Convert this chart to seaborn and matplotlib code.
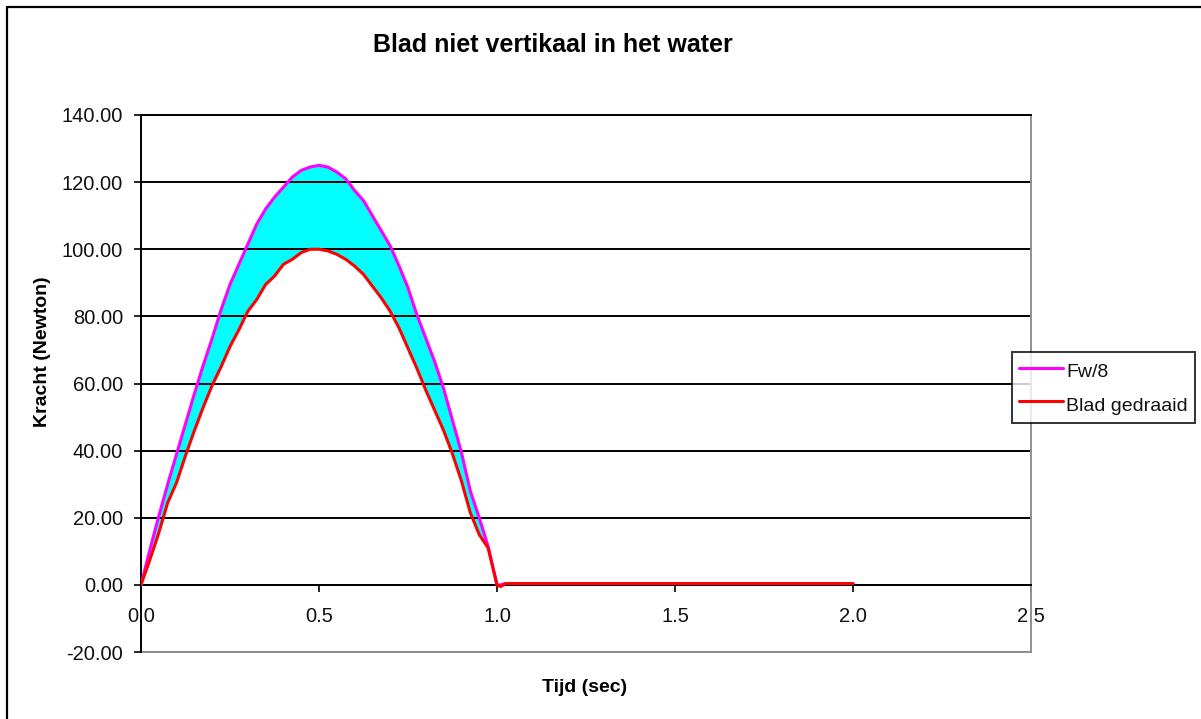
import matplotlib
matplotlib.use("Agg")
import matplotlib.pyplot as plt
from matplotlib.lines import Line2D
import seaborn as sns
import pandas as pd

# ---- data ----
tijd = [0.0, 0.025, 0.05, 0.075, 0.1, 0.125, 0.15, 0.175, 0.2, 0.225,
        0.25, 0.275, 0.3, 0.325, 0.35, 0.375, 0.4, 0.425, 0.45, 0.475,
        0.5, 0.525, 0.55, 0.575, 0.6, 0.625, 0.65, 0.675, 0.7, 0.725,
        0.75, 0.775, 0.8, 0.825, 0.85, 0.875, 0.9, 0.925, 0.95, 0.975,
        1.0, 1.01, 1.025, 1.5, 2.0]
fw8 = [0, 10.5, 20.5, 30, 39, 48, 57, 65.5, 73.5, 82,
       89.5, 95.5, 101.5, 107.5, 112, 115.5, 118.5, 121.5, 123.5, 124.5,
       125, 124.5, 123, 121, 117.5, 114.5, 110, 105.5, 101, 95,
       88.5, 80.5, 73.5, 66.5, 58.5, 49, 39.5, 28, 20, 11.5,
       0, 0, 0.4, 0.4, 0.4]
blad = [0, 7.5, 15.5, 24.5, 30.5, 38.5, 46, 53, 59.5, 65,
        71, 76, 81.5, 85, 89.5, 92, 95.5, 97, 99, 100,
        100, 99.5, 98.5, 97, 95, 92.5, 89, 85.5, 81.5, 76.5,
        70.5, 64.5, 58, 52, 46, 39, 31, 21.5, 15, 11,
        0, -0.5, 0.4, 0.4, 0.4]
series_names = ["Fw/8", "Blad gedraaid"]
series_colors = ["#FF00FF", "#FF0000"]
y_ticks = [-20, 0, 20, 40, 60, 80, 100, 120, 140]
x_ticks = [0.0, 0.5, 1.0, 1.5, 2.0, 2.5]

df = pd.DataFrame({
    "Tijd": tijd + tijd,
    "Kracht": fw8 + blad,
    "Serie": [series_names[0]] * len(tijd) + [series_names[1]] * len(tijd),
})

sns.set_theme(style="white")
plt.rcParams["font.family"] = ["Liberation Sans", "DejaVu Sans"]

W, H = 1201, 719
fig = plt.figure(figsize=(W / 100, H / 100), dpi=100)
fig.patch.set_facecolor("white")

def fx(px):
    return px / W

def fy(py):
    return 1 - py / H

ax = fig.add_axes([fx(141), fy(652), fx(1031) - fx(141), fy(115) - fy(652)])
ax.set_facecolor("white")

# cyan band between the two curves
ax.fill_between(tijd, blad, fw8, color="#00FFFF", linewidth=0, zorder=0.3)

sns.lineplot(data=df, x="Tijd", y="Kracht", hue="Serie", hue_order=series_names,
             palette=series_colors, linewidth=2.2, errorbar=None, sort=False,
             ax=ax, zorder=3)

ax.set_xlim(0, 2.5)
ax.set_ylim(-20, 140)
ax.set_xticks(x_ticks)
ax.set_xticklabels([f"{v:.1f}" for v in x_ticks])
ax.set_yticks(y_ticks)
ax.set_yticklabels([f"{v:.2f}" for v in y_ticks])
ax.set_xlabel("")
ax.set_ylabel("")

ax.set_axisbelow(True)
ax.yaxis.grid(True, color="black", linewidth=1.4)
ax.xaxis.grid(False)

for s in ["left", "bottom", "top"]:
    ax.spines[s].set_color("black")
    ax.spines[s].set_linewidth(1.4)
ax.spines["right"].set_color("#909090")
ax.spines["right"].set_linewidth(1.4)
ax.spines["bottom"].set_position(("data", 0))
ax.axhline(-20, color="#909090", linewidth=1.4, clip_on=False, zorder=1)

ax.tick_params(axis="both", direction="out", length=5, width=1.2, color="black",
               labelsize=14.5, labelcolor="#111111")
ax.tick_params(axis="y", pad=8, left=True)
ax.tick_params(axis="x", pad=11, bottom=True)

# legend
handles, labels = ax.get_legend_handles_labels()
if ax.get_legend() is not None:
    ax.get_legend().remove()
leg = fig.legend(handles, labels, loc="upper left",
                 bbox_to_anchor=(fx(1012), fy(352)), borderaxespad=0,
                 frameon=True, fancybox=False, edgecolor="black",
                 fontsize=14, handlelength=2.25, handleheight=1.5,
                 handletextpad=0.2, borderpad=0.35, labelspacing=0.5)
leg.get_frame().set_linewidth(1.4)
leg.get_frame().set_facecolor("white")
for t in leg.get_texts():
    t.set_color("#111111")
for lh in leg.get_lines():
    lh.set_linewidth(2.2)

# texts
fig.text(fx(553), fy(45), "Blad niet vertikaal in het water", ha="center", va="center",
         fontsize=18, fontweight="bold", color="black")
fig.text(fx(43), fy(352), "Kracht (Newton)", ha="center", va="center", rotation=90,
         fontsize=14, fontweight="bold", color="black")
fig.text(fx(585), fy(687), "Tijd (sec)", ha="center", va="center",
         fontsize=14, fontweight="bold", color="black")

# outer chart frame (top and left edges visible)
fig.add_artist(Line2D([fx(7), 1.0], [fy(7), fy(7)], color="black", linewidth=1.6))
fig.add_artist(Line2D([fx(7), fx(7)], [fy(7), 0.0], color="black", linewidth=1.6))

fig.savefig("out.png", dpi=100, facecolor="white")
